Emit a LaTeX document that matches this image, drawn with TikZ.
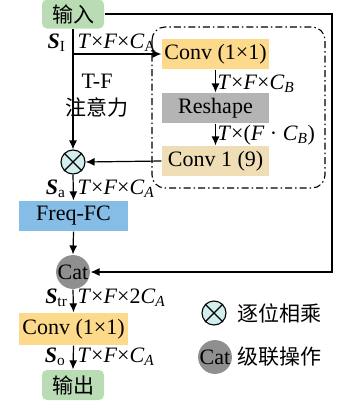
\documentclass[tikz,border=0pt]{standalone}
\usepackage{fontspec}
\setmainfont{Liberation Serif}
\newfontfamily\cjk{Noto Sans CJK SC}
\usetikzlibrary{arrows.meta}
\definecolor{iogreen}{RGB}{186,220,180}
\definecolor{convorange}{RGB}{253,217,140}
\definecolor{reshgray}{RGB}{180,180,180}
\definecolor{convbeige}{RGB}{238,221,181}
\definecolor{fcblue}{RGB}{133,189,230}
\definecolor{catgray}{RGB}{143,143,143}
\definecolor{mulcyan}{RGB}{211,238,238}
\newcommand\ita[1]{\textit{#1}}
\newcommand\subit[1]{\textsubscript{\textit{#1}}}
\begin{document}
\begin{tikzpicture}[x=1pt,y=1pt,
  font=\fontsize{22}{26}\selectfont,
  line width=1.2pt,
  arr/.style={-{Latex[length=9pt,width=8pt]}},
  iobox/.style={fill=iogreen, rounded corners=5pt, minimum width=62pt, minimum height=29pt, inner sep=0pt, font=\fontsize{21}{25}\selectfont\cjk},
  boxa/.style={fill=convorange, minimum width=107pt, minimum height=30pt, inner sep=0pt},
  boxr/.style={fill=reshgray, minimum width=107pt, minimum height=30pt, inner sep=0pt},
  boxb/.style={fill=convbeige, minimum width=107pt, minimum height=30pt, inner sep=0pt},
  boxfc/.style={fill=fcblue, minimum width=109pt, minimum height=30pt, inner sep=0pt},
  catnode/.style={circle, fill=catgray, minimum size=31pt, inner sep=0pt},
  mulnode/.style={circle, draw, fill=mulcyan, minimum size=24pt, inner sep=0pt, line width=1.1pt},
  lbl/.style={inner sep=1pt},
  cjklbl/.style={inner sep=1pt, font=\fontsize{21}{25}\selectfont\cjk}
]
\useasboundingbox (0,0) rectangle (349,-407);

% dash-dot frame
\draw[line width=1.1pt, dash pattern=on 7pt off 3pt on 1.5pt off 3pt, rounded corners=13pt] (152,-27) rectangle (325,-188);

\node[iobox] (in) at (73,-14) {输入};
\node[boxa] (c1) at (215.5,-54) {Conv (1×1)};
\node[boxr] (rs) at (215.5,-108) {Reshape};
\node[boxb] (c9) at (215.5,-161) {Conv 1 (9)};
\node[mulnode] (mul) at (73,-162) {};
\draw[line width=1.1pt] (mul.45) -- (mul.225) (mul.135) -- (mul.-45);
\node[boxfc] (fc) at (73.5,-216) {Freq-FC};
\node[catnode] (cat) at (73,-272) {Cat};
\node[boxa, minimum width=109pt, minimum height=32pt] (co) at (73.5,-329) {Conv (1×1)};
\node[iobox, minimum height=30pt] (out) at (73,-385) {输出};

% connectors
\coordinate (br) at (in.south |- c1.west);
\coordinate (corner) at (332,-14);
\draw[arr] (in.south) -- (mul.north);
\draw[arr] (br) -- (c1.west);
\draw[arr] (c1.south) -- (rs.north);
\draw[arr] (rs.south) -- (c9.north);
\draw[arr] (c9.west) -- (mul.east);
\draw[arr] (mul.south) -- (fc.north);
\draw[arr] (fc.south) -- (cat.north);
\draw[arr] (in.east) -- (corner) |- (cat.east);
\draw[arr] (cat.south) -- (co.north);
\draw[arr] (co.south) -- (out.north);

% labels
\node[lbl, anchor=east] (lsi) at (67,-43) {\textbf{\textit{S}}\textsubscript{I}};
\node[lbl, anchor=west] (lt1) at (76,-43) {\ita{T}×\ita{F}×\ita{C}\textsubscript{A}};
\node[lbl] (ltf) at (97,-81) {T-F};
\node[cjklbl] (latt) at (97,-107) {注意力};
\node[lbl, anchor=west] (lt2) at (216,-84) {\ita{T}×\ita{F}×\ita{C}\subit{B}};
\node[lbl, anchor=west] (lt3) at (216,-135) {\ita{T}×(\ita{F} · \ita{C}\subit{B})};
\node[lbl, anchor=east] (lsa) at (67,-189) {\textbf{\textit{S}}\textsubscript{a}};
\node[lbl, anchor=west] (lt4) at (76,-189) {\ita{T}×\ita{F}×\ita{C}\subit{A}};
\node[lbl, anchor=east] (lstr) at (69,-298) {\textbf{\textit{S}}\textsubscript{tr}};
\node[lbl, anchor=west] (lt5) at (76,-298) {\ita{T}×\ita{F}×2\ita{C}\subit{A}};
\node[lbl, anchor=east] (lso) at (67,-357) {\textbf{\textit{S}}\textsubscript{o}};
\node[lbl, anchor=west] (lt6) at (76,-357) {\ita{T}×\ita{F}×\ita{C}\subit{A}};

% legend
\node[mulnode] (mul2) at (214,-313) {};
\draw[line width=1.1pt] (mul2.45) -- (mul2.225) (mul2.135) -- (mul2.-45);
\node[cjklbl, anchor=west] (lg1) at (236,-313) {逐位相乘};
\node[catnode] (cat2) at (215,-357) {Cat};
\node[cjklbl, anchor=west] (lg2) at (236,-357) {级联操作};
\end{tikzpicture}
\end{document}
